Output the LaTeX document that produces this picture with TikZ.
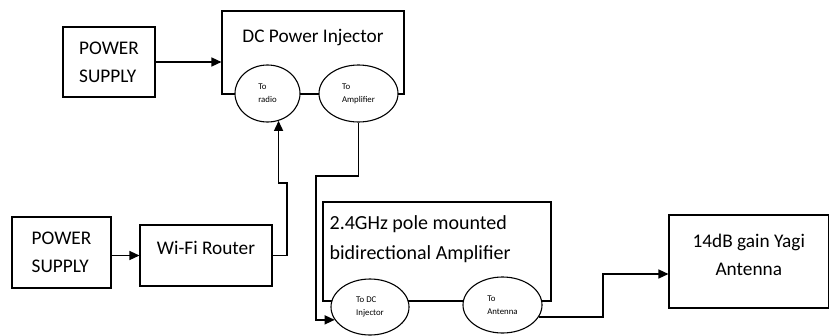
\documentclass[tikz,border=0pt]{standalone}
\usepackage{fontspec}
\setmainfont{Carlito}
\usetikzlibrary{arrows.meta,shapes.geometric}

\begin{document}
\begin{tikzpicture}[
  x=1pt, y=-1pt,
  font=\fontsize{19.3}{28}\selectfont,
  box/.style={draw, line width=1.1pt, inner sep=0pt, align=center},
  port/.style={draw, ellipse, line width=1.1pt, fill=white, inner sep=0pt,
               align=left, font=\fontsize{8.8}{13}\selectfont},
  title/.style={inner sep=0pt, align=left},
  arr/.style={-{Triangle[length=10pt, width=9pt]}, line width=1.4pt}
]
\useasboundingbox (0,0) rectangle (830,335);

% ---------- injector ----------
\node[box, minimum width=92pt, minimum height=70pt, align=left] (supply1) at (109,62)
  {POWER\\SUPPLY};
\node[box, minimum width=182pt, minimum height=83pt,
      label={[title, anchor=north, yshift=-18.5pt]north:DC Power Injector}]
  (injector) at (313,52.5) {};
\node[port, minimum width=65pt, minimum height=57pt] (toradio) at (267.5,93.5) {To\\radio};
\node[port, minimum width=79pt, minimum height=57pt] (toamp) at (358.5,93.5) {To\\Amplifier};

\draw[arr] (supply1.east) -- (supply1.east -| injector.west);

% ---------- router ----------
\node[box, minimum width=99pt, minimum height=71pt, align=left] (supply2) at (61.5,252.5)
  {POWER\\SUPPLY};
\node[box, minimum width=132pt, minimum height=61pt, text depth=15pt] (router)
  at (206,255.5) {Wi-Fi Router};

\draw[arr] (supply2.east |- router.west) -- (router.west);

\coordinate (upA) at (287,183);
\draw[arr] (router.east) -| (upA) -| (toradio.-68);

% ---------- amplifier ----------
\node[box, minimum width=228pt, minimum height=99pt,
      label={[title, anchor=north west, xshift=7pt, yshift=-14pt,
              font=\fontsize{20}{30}\selectfont]north west:2.4GHz pole mounted\\bidirectional Amplifier}]
  (amplifier) at (437,251.5) {};
\node[port, minimum width=78pt, minimum height=56pt] (todc) at (370,307) {To DC\\Injector};
\node[port, minimum width=79pt, minimum height=56pt] (toant) at (502.5,305) {To\\Antenna};

\coordinate (downB) at (316,176);
\draw[arr] (toamp.south) |- (downB) |- (todc.200);

% ---------- antenna ----------
\node[box, minimum width=159.5pt, minimum height=93pt, text depth=13.5pt] (antenna)
  at (748.75,261.5) {14dB gain Yagi\\Antenna};

\coordinate (upC) at (603,274);
\draw[arr] (toant.-18) -| (upC) -- (upC -| antenna.west);

\end{tikzpicture}
\end{document}
